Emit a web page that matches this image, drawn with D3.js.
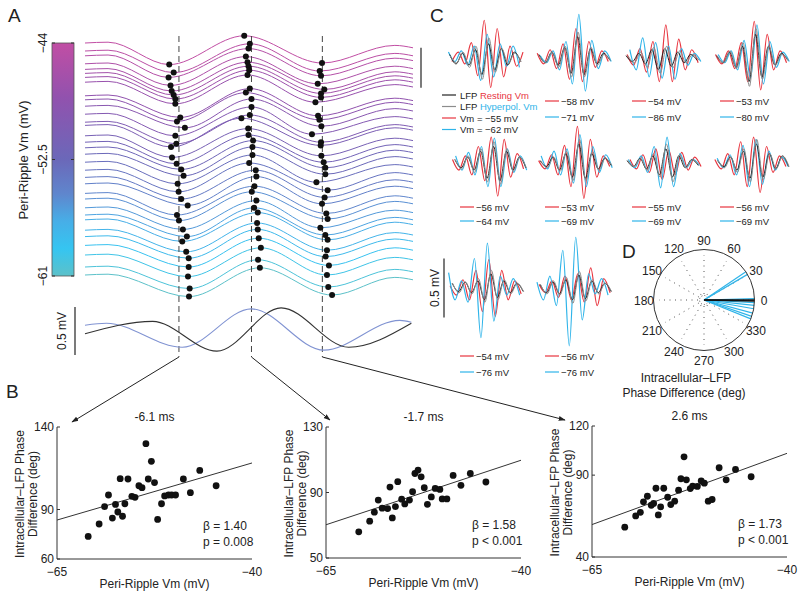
<!DOCTYPE html>
<html><head><meta charset="utf-8">
<script src="https://cdn.jsdelivr.net/npm/d3@7"></script>
<style>
body{margin:0;background:#fff}
text{font-family:"Liberation Sans",Arial,Helvetica,sans-serif;fill:#222}
</style>
</head><body><svg id="fig" width="800" height="596"></svg>
<script>
// ================= DATA =================
// Panel A — stacked peri-ripple LFP traces, coloured by Vm
const aDashTimes = [-6.1, -1.7, 2.6];           // ms
const aTimeDomain = [-11.8, 8.1];               // ms
const traceVm = [-44,-44.5,-45,-45.6,-46,-46.5,-47,-47.4,-48,-48.5,-49,-49.5,-50,-50.5,-51,-51.5,-52,-52.5,-53,-53.5,-54,-54.5,-55,-55.5,-56,-56.5,-57,-57.5,-58,-58.7,-59.5,-60.2,-61];
const traceBase = [0,-0.10,-0.16,-0.26,-0.33,-0.38,-0.43,-0.49,-0.66,-0.71,-0.79,-0.89,-0.99,-1.03,-1.16,-1.24,-1.31,-1.39,-1.49,-1.59,-1.68,-1.76,-1.88,-1.95,-2.06,-2.15,-2.21,-2.34,-2.42,-2.53,-2.65,-2.80,-2.90];
const dotT1 = [-6.69,-6.42,-6.73,-6.61,-6.54,-6.42,-6.32,-6.32,-6.02,-6.22,-5.74,-6.32,-6.26,-6.58,-6.52,-6.24,-5.96,-5.82,-6.18,-6.12,-5.96,-5.57,-6.22,-6.1,-5.86,-5.62,-5.9,-5.66,-5.51,-5.51,-5.55,-5.45,-5.49];
const dotT2 = [-2.14,-1.80,-1.88,-2.04,-1.94,-1.88,-1.84,-1.94,-1.80,-2.04,-1.70,-1.70,-1.80,-2.31,-1.90,-1.88,-1.60,-1.64,-1.64,-1.84,-1.44,-1.40,-1.52,-1.68,-1.40,-1.54,-1.32,-1.36,-1.32,-1.26,-1.13,-1.30,-1.19];
const dotT3 = [2.58,2.44,2.52,2.32,2.72,2.52,2.52,2.18,2.34,2.42,2.54,1.97,2.52,2.50,2.54,2.68,2.78,2.78,2.24,2.92,2.74,2.58,2.84,2.92,2.48,2.78,2.92,2.88,2.80,3.00,2.88,2.96,3.19];
const traceEdgeT = [-11.8, -10.4, 7.0, 8.1];               // start, early peak, late peak, end
const traceShapeV = [0, 0.01, -0.27, 0.09, -0.25, -0.03, -0.06]; // mV at start, peak0, dot1, dot2, dot3, peak4, end
const cbTicks = [-44, -52.5, -61];
const colorStopsVm = [-44,-48,-52.5,-55,-57,-59,-61];
const colorStopsHex = ["#c14ea4","#9152ae","#6b68b9","#5f86cd","#47aee7","#35c5f1","#5cc1c9"];
// Panel A bottom — average LFP (black) and Vm (blue)
const aLfpT = [-11.8,-7.7,-3.8,0.1,4.2,8.0];
const aLfpV = [-0.04,0.09,-0.22,0.23,-0.18,0.07];
const aVmT  = [-11.8,-10.5,-5.9,-1.7,2.7,7.3,8.0];
const aVmV  = [0.05,0.07,-0.18,0.22,-0.21,0.10,0.08];

// Panel B — phase difference vs Vm
const b1Vm = [-61.0,-59.6,-58.9,-58.4,-57.9,-57.5,-57.2,-56.9,-56.6,-56.3,-55.9,-55.4,-55.0,-54.5,-54.1,-53.6,-53.3,-52.9,-52.5,-52.1,-51.6,-51.2,-50.7,-50.3,-49.8,-48.8,-47.9,-46.7,-44.6];
const b1Ph = [73.7,81.2,91.7,98.8,84.8,93.1,88.5,108.7,85.9,93.5,108.5,98.0,97.4,104.4,103.2,129.9,108.5,119.2,106.3,84.0,93.5,98.2,98.8,98.8,98.8,108.5,100.2,113.7,104.4];
const b2Vm = [-60.8,-59.4,-58.8,-58.3,-57.8,-57.1,-56.8,-56.5,-56.1,-55.8,-55.3,-54.9,-54.3,-53.9,-53.6,-53.2,-52.8,-52.4,-52.0,-51.5,-51.0,-50.4,-50.1,-49.5,-48.7,-47.7,-46.5,-44.5];
const b2Ph = [66.0,72.5,78.0,85.4,80.4,80.2,93.3,74.5,81.4,96.6,85.9,83.0,85.4,90.5,101.6,103.7,99.6,92.9,82.8,87.3,92.5,91.9,86.1,86.1,100.4,94.4,101.6,96.4];
const b3Vm = [-60.8,-59.4,-58.8,-58.4,-57.9,-57.4,-57.1,-56.8,-56.5,-56.2,-55.8,-55.3,-54.9,-54.4,-53.9,-53.6,-53.2,-52.9,-52.4,-52.1,-51.5,-51.0,-50.6,-50.1,-49.6,-48.7,-47.8,-46.6,-44.6];
const b3Ph = [58.2,65.1,67.3,73.7,77.1,71.6,72.7,82.0,65.7,70.6,82.0,76.5,72.0,74.1,80.8,87.8,101.2,87.1,81.8,83.3,83.1,86.5,85.1,74.1,75.1,94.5,87.1,93.5,89.0];
const bXDomain = [-65, -40];
const bYDomains = [[60,140],[50,130],[40,120]];
const bYTicks = [[60,90,140],[50,90,130],[40,90,120]];
const bTitles = ["-6.1 ms","-1.7 ms","2.6 ms"];
const bBeta = ["β = 1.40","β = 1.58","β = 1.73"];
const bP = ["p = 0.008","p < 0.001","p < 0.001"];
const bFitAtMin = [83.6, 70.3, 59.8];   // fit value at -65 mV
const bFitAtMax = [118.2, 109.7, 103.3]; // fit value at -40 mV

// Panel C — ripple-locked LFP and Vm (extrema amplitudes, mV) for 10 cells
const cHalfPeriod = 3.1; // ms between successive extrema
const cShift = [[0.8,1.0,1.9,0.2],[0.9,1.1,0.1,1.5],[0.5,1.4,1.0,2.3],[1.8,2.0,1.2,2.5],[2.3,2.5,1.2,2.7],
                [1.5,1.8,0.8,2.0],[1.0,1.3,2.4,1.6],[2.2,2.4,0.9,2.0],[2.0,2.2,1.0,0.3],[1.5,1.7,1.0,0.0]];
const cLfpRest = [
 [0.03,-0.05,0.04,-0.06,0.07,-0.14,0.12,-0.10,0.08,-0.06,0.05,-0.03],
 [0.03,-0.04,0.05,-0.06,0.09,-0.13,0.18,-0.14,0.08,-0.05,0.04,-0.02],
 [0.02,-0.03,0.04,-0.05,0.07,-0.10,0.08,-0.07,0.05,-0.04,0.03,-0.02],
 [0.02,-0.04,0.05,-0.08,0.10,-0.20,0.20,-0.16,0.10,-0.06,0.04,-0.02],
 [0.03,-0.04,0.05,-0.06,0.10,-0.13,0.14,-0.15,0.10,-0.06,0.05,-0.04],
 [0.02,-0.03,0.05,-0.06,0.08,-0.12,0.16,-0.13,0.08,-0.05,0.04,-0.02],
 [0.02,-0.03,0.04,-0.05,0.06,-0.10,0.12,-0.12,0.06,-0.04,0.03,-0.02],
 [0.02,-0.03,0.05,-0.06,0.10,-0.13,0.16,-0.12,0.08,-0.05,0.06,-0.03],
 [0.04,-0.03,0.05,-0.04,0.06,-0.10,0.12,-0.08,0.06,-0.04,0.04,-0.03],
 [0.03,-0.04,0.05,-0.05,0.07,-0.10,0.11,-0.09,0.06,-0.04,0.04,-0.03]];
const cLfpHyp = [
 [0.02,-0.04,0.05,-0.08,0.10,-0.18,0.17,-0.12,0.08,-0.05,0.04,-0.03],
 [0.02,-0.04,0.05,-0.08,0.10,-0.16,0.22,-0.16,0.09,-0.06,0.03,-0.02],
 [0.02,-0.04,0.05,-0.08,0.09,-0.13,0.10,-0.08,0.06,-0.04,0.03,-0.02],
 [0.02,-0.04,0.06,-0.09,0.13,-0.24,0.25,-0.18,0.10,-0.06,0.03,-0.02],
 [0.03,-0.05,0.06,-0.08,0.12,-0.16,0.18,-0.18,0.12,-0.07,0.05,-0.04],
 [0.02,-0.04,0.05,-0.07,0.10,-0.15,0.20,-0.15,0.10,-0.06,0.04,-0.02],
 [0.02,-0.03,0.04,-0.06,0.08,-0.12,0.16,-0.16,0.07,-0.04,0.03,-0.02],
 [0.02,-0.04,0.05,-0.08,0.12,-0.16,0.20,-0.14,0.08,-0.05,0.06,-0.03],
 [0.04,-0.04,0.05,-0.05,0.08,-0.12,0.15,-0.10,0.07,-0.05,0.04,-0.03],
 [0.03,-0.05,0.06,-0.06,0.09,-0.13,0.14,-0.11,0.07,-0.05,0.04,-0.03]];
const cVmRest = [
 [-0.03,0.05,-0.05,0.13,-0.15,0.32,-0.25,0.25,-0.16,0.10,-0.07,0.05],
 [0.04,-0.05,0.07,-0.09,0.12,-0.18,0.25,-0.20,0.14,-0.08,0.06,-0.03],
 [0.03,-0.06,0.08,-0.12,0.14,-0.20,0.28,-0.20,0.16,-0.10,0.07,-0.04],
 [0.03,-0.05,0.06,-0.09,0.13,-0.20,0.31,-0.27,0.20,-0.10,0.06,-0.04],
 [0.03,-0.06,0.06,-0.10,0.14,-0.15,0.22,-0.28,0.20,-0.12,0.08,-0.05],
 [0.02,-0.05,0.07,-0.10,0.15,-0.20,0.31,-0.30,0.20,-0.12,0.06,-0.03],
 [0.03,-0.05,0.07,-0.08,0.12,-0.14,0.11,-0.10,0.09,-0.06,0.05,-0.03],
 [0.03,-0.05,0.08,-0.10,0.18,-0.20,0.22,-0.25,0.14,-0.08,0.06,-0.03],
 [0.02,-0.06,0.07,-0.10,0.15,-0.20,0.24,-0.24,0.15,-0.10,0.06,-0.05],
 [0.03,-0.04,0.06,-0.08,0.10,-0.10,0.12,-0.12,0.17,-0.15,0.08,-0.04]];
const cVmHyp = [
 [0.05,-0.03,0.06,-0.06,0.10,-0.19,0.20,-0.16,0.12,-0.07,0.10,-0.08],
 [0.02,-0.04,0.06,-0.10,0.14,-0.22,0.37,-0.28,0.15,-0.09,0.06,-0.03],
 [0.07,-0.10,0.17,-0.16,0.13,-0.17,0.10,-0.18,0.08,-0.06,0.04,-0.03],
 [0.03,-0.04,0.06,-0.10,0.15,-0.17,0.28,-0.22,0.14,-0.08,0.05,-0.03],
 [0.06,-0.06,0.09,-0.10,0.14,-0.20,0.21,-0.20,0.12,-0.08,0.06,-0.06],
 [0.06,-0.05,0.10,-0.10,0.12,-0.17,0.24,-0.20,0.14,-0.08,0.07,-0.04],
 [0.03,-0.04,0.06,-0.08,0.14,-0.21,0.22,-0.20,0.08,-0.04,0.03,-0.02],
 [0.04,-0.04,0.07,-0.10,0.15,-0.20,0.20,-0.18,0.10,-0.06,0.05,-0.03],
 [0.13,-0.10,0.06,-0.12,0.25,-0.42,0.38,-0.28,0.10,-0.06,0.08,-0.06],
 [0.05,-0.10,0.10,-0.15,0.32,-0.49,0.43,-0.27,0.12,-0.05,0.08,-0.06]];
const cRestLabel = ["−55","−58","−54","−53","−56","−53","−55","−56","−54","−56"];
const cHypLabel  = ["−62","−71","−86","−80","−64","−69","−69","−69","−76","−76"];

// Panel D — phase differences (deg)
const dHypAngles = [34, 30.5, 1.5, -3, -6, -10, -15, -19, -22];
const dLfpAngles = [0, -1];
const dTickAngles = [0,30,60,90,120,150,180,210,240,270,300,330];

// ================= DRAWING =================
const svg = d3.select("#fig");
svg.append("rect").attr("width",800).attr("height",596).attr("fill","#fff");
const RED = "#e8353f", CYAN = "#2fb4e9", GRAY = "#8c8c8c", BLACK = "#222";

function letter(x,y,t){ svg.append("text").attr("x",x).attr("y",y).attr("font-size",19).text(t); }
letter(8,22,"A"); letter(6,398,"B"); letter(430,22,"C"); letter(622,258,"D");

const defs = svg.append("defs");
defs.append("marker").attr("id","arr").attr("viewBox","0 -4 10 8").attr("refX",9).attr("refY",0)
  .attr("markerWidth",7).attr("markerHeight",6).attr("orient","auto")
  .append("path").attr("d","M0,-3.5L10,0L0,3.5Z").attr("fill","#222");

// ---- Panel A ----
const vmColor = d3.scaleLinear().domain(colorStopsVm).range(colorStopsHex);
const aT = d3.scaleLinear().domain(aTimeDomain).range([85, 413]);
const aY = d3.scaleLinear().domain([0,-1]).range([43,123]);   // 80 px per mV
const cbY = d3.scaleLinear().domain([-44,-61]).range([43,276]);

const grad = defs.append("linearGradient").attr("id","cb").attr("x1",0).attr("y1",0).attr("x2",0).attr("y2",1);
colorStopsVm.forEach((v,i)=>grad.append("stop").attr("offset",(cbY(v)-43)/(276-43)).attr("stop-color",colorStopsHex[i]));
svg.append("rect").attr("x",52).attr("y",cbY(-44)).attr("width",22).attr("height",cbY(-61)-cbY(-44))
  .attr("fill","url(#cb)").attr("stroke","#555").attr("stroke-width",0.8);
cbTicks.forEach(v=>{
  svg.append("line").attr("x1",52).attr("x2",55).attr("y1",cbY(v)).attr("y2",cbY(v)).attr("stroke","#333");
  svg.append("line").attr("x1",71).attr("x2",74).attr("y1",cbY(v)).attr("y2",cbY(v)).attr("stroke","#333");
  svg.append("text").attr("transform",`translate(47,${cbY(v)}) rotate(-90)`).attr("text-anchor","middle")
    .attr("font-size",12).text(String(v).replace("-","−"));
});
svg.append("text").attr("transform","translate(28,160) rotate(-90)").attr("text-anchor","middle")
  .attr("font-size",13).text("Peri-Ripple Vm (mV)");

const traceLine = d3.line().x(d=>aT(d[0])).y(d=>aY(d[1])).curve(d3.curveMonotoneX);
const gTr = svg.append("g");
traceVm.forEach((vm,i)=>{
  const b = traceBase[i];
  const pts = [[traceEdgeT[0],b+traceShapeV[0]],[traceEdgeT[1],b+traceShapeV[1]],
    [dotT1[i],b+traceShapeV[2]],[dotT2[i],b+traceShapeV[3]],[dotT3[i],b+traceShapeV[4]],
    [traceEdgeT[2],b+traceShapeV[5]],[traceEdgeT[3],b+traceShapeV[6]]];
  gTr.append("path").attr("d",traceLine(pts)).attr("fill","none").attr("stroke",vmColor(vm)).attr("stroke-width",1);
});
// dashed lines
aDashTimes.forEach(t=>{
  svg.append("line").attr("x1",aT(t)).attr("x2",aT(t)).attr("y1",36).attr("y2",357)
    .attr("stroke","#444").attr("stroke-width",1).attr("stroke-dasharray","6,4");
});
const gDots = svg.append("g");
traceVm.forEach((vm,i)=>{
  const b = traceBase[i];
  [[dotT1[i],traceShapeV[2]],[dotT2[i],traceShapeV[3]],[dotT3[i],traceShapeV[4]]].forEach(d=>{
    gDots.append("circle").attr("cx",aT(d[0])).attr("cy",aY(b+d[1])).attr("r",3).attr("fill","#111");
  });
});
// scale bar top-right of A (0.5 mV)
svg.append("line").attr("x1",421).attr("x2",421).attr("y1",aY(-0.06)).attr("y2",aY(-0.56)).attr("stroke","#222").attr("stroke-width",1.2);

// bottom traces
const aBY = d3.scaleLinear().domain([0,0.5]).range([330,282]);
const bLine = (T,V)=>d3.line().x((d,i)=>aT(T[i])).y(d=>aBY(d)).curve(d3.curveMonotoneX)(V);
svg.append("path").attr("d",bLine(aVmT,aVmV)).attr("fill","none").attr("stroke","#8093d2").attr("stroke-width",1.1);
svg.append("path").attr("d",bLine(aLfpT,aLfpV)).attr("fill","none").attr("stroke","#333").attr("stroke-width",1.1);
svg.append("line").attr("x1",75).attr("x2",75).attr("y1",aBY(0.24)).attr("y2",aBY(-0.26)).attr("stroke","#222").attr("stroke-width",1.2);
svg.append("text").attr("transform",`translate(66,${aBY(-0.01)}) rotate(-90)`).attr("text-anchor","middle")
  .attr("font-size",12).text("0.5 mV");

// connectors to panel B
const tips = [[72,422],[330,420],[565,420]];
aDashTimes.forEach((t,i)=>{
  svg.append("line").attr("x1",aT(t)).attr("y1",357).attr("x2",tips[i][0]).attr("y2",tips[i][1])
    .attr("stroke","#222").attr("stroke-width",1).attr("marker-end","url(#arr)");
});

// ---- Panel B ----
const bLayouts = [{x0:57,x1:252,yT:427,yB:559},{x0:326,x1:521,yT:427,yB:558},{x0:592,x1:787,yT:426,yB:557}];
const bData = [[b1Vm,b1Ph],[b2Vm,b2Ph],[b3Vm,b3Ph]];
bLayouts.forEach((L,k)=>{
  const g = svg.append("g");
  const x = d3.scaleLinear().domain(bXDomain).range([L.x0,L.x1]);
  const y = d3.scaleLinear().domain(bYDomains[k]).range([L.yB,L.yT]);
  g.append("line").attr("x1",L.x0).attr("x2",L.x0).attr("y1",L.yT).attr("y2",L.yB).attr("stroke","#333");
  g.append("line").attr("x1",L.x0).attr("x2",L.x1).attr("y1",L.yB).attr("y2",L.yB).attr("stroke","#333");
  bYTicks[k].forEach(v=>{
    g.append("line").attr("x1",L.x0).attr("x2",L.x0+3).attr("y1",y(v)).attr("y2",y(v)).attr("stroke","#333");
    g.append("text").attr("x",L.x0-3).attr("y",y(v)+4).attr("text-anchor","end").attr("font-size",12).text(v);
  });
  bXDomain.forEach(v=>{
    g.append("text").attr("x",x(v)).attr("y",L.yB+17).attr("text-anchor","middle").attr("font-size",12)
      .text(String(v).replace("-","−"));
  });
  g.append("text").attr("x",(L.x0+L.x1)/2).attr("y",L.yB+29).attr("text-anchor","middle").attr("font-size",12)
    .text("Peri-Ripple Vm (mV)");
  g.append("text").attr("x",(L.x0+L.x1)/2).attr("y",L.yT-6).attr("text-anchor","middle").attr("font-size",12)
    .text(bTitles[k]);
  const yc = (L.yT+L.yB)/2 + 1;
  g.append("text").attr("transform",`translate(${L.x0-33},${yc}) rotate(-90)`).attr("text-anchor","middle")
    .attr("font-size",12).text("Intracellular–LFP Phase");
  g.append("text").attr("transform",`translate(${L.x0-20},${yc}) rotate(-90)`).attr("text-anchor","middle")
    .attr("font-size",12).text("Difference (deg)");
  g.append("line").attr("x1",x(bXDomain[0])).attr("y1",y(bFitAtMin[k])).attr("x2",x(bXDomain[1])).attr("y2",y(bFitAtMax[k]))
    .attr("stroke","#333").attr("stroke-width",1);
  const [vx,vy] = bData[k];
  vx.forEach((v,i)=>g.append("circle").attr("cx",x(v)).attr("cy",y(vy[i])).attr("r",3.4).attr("fill","#111"));
  g.append("text").attr("x",L.x0+146).attr("y",L.yB-29).attr("font-size",12).text(bBeta[k]);
  g.append("text").attr("x",L.x0+146).attr("y",L.yB-13).attr("font-size",12).text(bP[k]);
});

// ---- Panel C ----
const cPanelX = [448,537,625,713,450,537,625,713,448,537];
const cPanelY = [58,58,58,58,163,163,163,163,288,288];
const cLabelX = [null,545,632,720,460,545,632,720,460,545];
const cLabelY = [[0,0],[101,117],[101,117],[101,117],[207,221],[207,221],[207,221],[207,221],[356,372],[356,372]];
cPanelX.forEach((x0,p)=>{
  const xs = d3.scaleLinear().domain([0,36]).range([x0,x0+75]);
  const ys = d3.scaleLinear().domain([0,0.5]).range([cPanelY[p],cPanelY[p]-59]);
  const wave = (amps,shift)=>d3.line().x((d,i)=>xs(shift+i*cHalfPeriod)).y(d=>ys(d)).curve(d3.curveMonotoneX)(amps);
  const g = svg.append("g");
  g.append("path").attr("d",wave(cVmRest[p],cShift[p][2])).attr("fill","none").attr("stroke",RED).attr("stroke-width",1.2);
  g.append("path").attr("d",wave(cVmHyp[p],cShift[p][3])).attr("fill","none").attr("stroke",CYAN).attr("stroke-width",1.2);
  g.append("path").attr("d",wave(cLfpRest[p],cShift[p][0])).attr("fill","none").attr("stroke",BLACK).attr("stroke-width",1);
  g.append("path").attr("d",wave(cLfpHyp[p],cShift[p][1])).attr("fill","none").attr("stroke",GRAY).attr("stroke-width",1);
  if (p>0){
    const lx = cLabelX[p];
    [[RED,cRestLabel[p]],[CYAN,cHypLabel[p]]].forEach((d,j)=>{
      const ly = cLabelY[p][j];
      g.append("line").attr("x1",lx).attr("x2",lx+14).attr("y1",ly).attr("y2",ly).attr("stroke",d[0]).attr("stroke-width",1.2);
      g.append("text").attr("x",lx+16).attr("y",ly+3.5).attr("font-size",9.5).text(d[1]+" mV");
    });
  }
});
// legend in first C panel
const legRows = [[BLACK,"LFP ","Resting Vm",RED],[GRAY,"LFP ","Hyperpol. Vm",CYAN],[RED,"Vm = "+cRestLabel[0]+" mV",null,null],[CYAN,"Vm = "+cHypLabel[0]+" mV",null,null]];
const legY = [95,106.5,118,129.5];
legRows.forEach((r,i)=>{
  svg.append("line").attr("x1",442).attr("x2",456).attr("y1",legY[i]).attr("y2",legY[i]).attr("stroke",r[0]).attr("stroke-width",1.2);
  const t = svg.append("text").attr("x",460).attr("y",legY[i]+3.5).attr("font-size",9.5);
  t.append("tspan").text(r[1]);
  if (r[2]) t.append("tspan").attr("fill",r[3]).style("fill",r[3]).text(r[2]);
});
// C scale bar
const cSY = d3.scaleLinear().domain([0,0.5]).range([288,229]);
svg.append("line").attr("x1",444).attr("x2",444).attr("y1",cSY(0.25)).attr("y2",cSY(-0.25)).attr("stroke","#222").attr("stroke-width",1.2);
svg.append("text").attr("transform","translate(439,288) rotate(-90)").attr("text-anchor","middle").attr("font-size",12).text("0.5 mV");

// ---- Panel D ----
const cx = 704, cy = 300, R = 50.5;
const ang = d3.scaleLinear().domain([0,360]).range([0,2*Math.PI]);
const pol = (deg,r)=>[cx + r*Math.cos(ang(deg)), cy - r*Math.sin(ang(deg))];
const gD = svg.append("g");
dTickAngles.forEach(a=>{
  const p0 = pol(a,6), p1 = pol(a,45);
  gD.append("line").attr("x1",p0[0]).attr("y1",p0[1]).attr("x2",p1[0]).attr("y2",p1[1])
    .attr("stroke","#555").attr("stroke-width",1).attr("stroke-dasharray","1,4.5");
});
gD.append("circle").attr("cx",cx).attr("cy",cy).attr("r",4.5).attr("fill","none").attr("stroke","#555").attr("stroke-dasharray","1,2");
dHypAngles.forEach(a=>{
  const p1 = pol(a,R);
  gD.append("line").attr("x1",cx).attr("y1",cy).attr("x2",p1[0]).attr("y2",p1[1]).attr("stroke",CYAN).attr("stroke-width",1.2);
});
dLfpAngles.forEach(a=>{
  const p1 = pol(a,R);
  gD.append("line").attr("x1",cx).attr("y1",cy).attr("x2",p1[0]).attr("y2",p1[1]).attr("stroke","#111").attr("stroke-width",1.5);
});
gD.append("circle").attr("cx",cx).attr("cy",cy).attr("r",R).attr("fill","none").attr("stroke","#333").attr("stroke-width",1);
dTickAngles.forEach(a=>{
  const p = pol(a,60);
  gD.append("text").attr("x",p[0]).attr("y",p[1]+4.5).attr("text-anchor","middle").attr("font-size",12).text(a);
});
svg.append("text").attr("x",686).attr("y",382).attr("text-anchor","middle").attr("font-size",12).text("Intracellular–LFP");
svg.append("text").attr("x",684).attr("y",397).attr("text-anchor","middle").attr("font-size",12).text("Phase Difference (deg)");
</script></body></html>
